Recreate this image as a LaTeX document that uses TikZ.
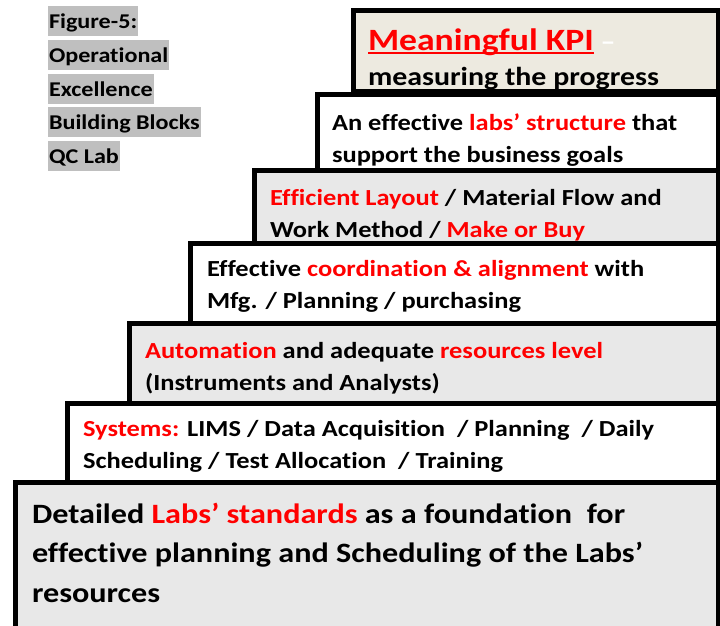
\documentclass[tikz,border=0pt]{standalone}
\usepackage{fontspec}
\setmainfont{Carlito}[FakeStretch=1.15, Ligatures=NoCommon]
\usetikzlibrary{positioning}

\definecolor{kpifill}{RGB}{237,234,224}
\definecolor{stepgray}{RGB}{232,232,232}
\definecolor{hlgray}{RGB}{191,191,191}
\newcommand{\hot}[1]{\textcolor{red}{#1}}
\newcommand{\kpiline}[1]{\textcolor{red}{\setbox0=\hbox{#1}\rlap{\rule[-4pt]{\wd0}{2.5pt}}\box0}}

\begin{document}
\begin{tikzpicture}[x=1pt, y=-1pt]
    \tikzstyle{every node}=[inner sep=0pt, outer sep=0pt, font=\bfseries]
    \tikzstyle{stepbox}=[draw=black, line width=5pt, rectangle, anchor=north west]
    \tikzstyle{steptext}=[anchor=base west, align=left, font=\bfseries\fontsize{23}{32}\selectfont]
    \tikzstyle{hl}=[fill=hlgray, anchor=west, inner xsep=1pt, text height=22pt, text depth=8pt, font=\bfseries\fontsize{21}{25}\selectfont]

    \clip (0,0) rectangle (720,625);

% The steps, from the foundation up to the top block.
% (text nodes sit on the baseline of their last line)

    \node[stepbox, fill=stepgray, minimum width=703, minimum height=160] (base) at (15,482) {};
    \node[stepbox, fill=white, minimum width=651, minimum height=79] (systems) at (67,403) {};
    \node[stepbox, fill=stepgray, minimum width=589, minimum height=80] (automation) at (129,323) {};
    \node[stepbox, fill=white, minimum width=528, minimum height=80] (coordination) at (190,243) {};
    \node[stepbox, fill=stepgray, minimum width=464, minimum height=73] (layout) at (254,170) {};
    \node[stepbox, fill=white, minimum width=401, minimum height=76] (structure) at (317,94) {};
    \node[stepbox, fill=kpifill, minimum width=365, minimum height=81] (kpi) at (353,10) {};

    \node[steptext, font=\bfseries\fontsize{28}{39.5}\selectfont] (basetext) at (32,602) {Detailed \hot{Labs’ standards} as a foundation\ \ for\\effective planning\ and\ Scheduling\ of the Labs’\\resources};
    \node[steptext] (systemstext) at (83,468) {\hot{Systems:} LIMS / Data Acquisition\ \ / Planning\ \ / Daily\\Scheduling / Test Allocation\ \ / Training};
    \node[steptext] (automationtext) at (145,390) {\hot{Automation} and adequate \hot{resources level}\\(Instruments and Analysts)};
    \node[steptext] (coordinationtext) at (207,308) {Effective \hot{coordination\ \& alignment} with\\Mfg. / Planning / purchasing};
    \node[steptext] (layouttext) at (270,237) {\hot{Efficient Layout} / Material Flow and\\Work Method / \hot{Make or Buy}};
    \node[steptext] (structuretext) at (332,162) {An effective \hot{labs’ structure} that\\support the business goals};
    \node[steptext, font=\bfseries\fontsize{26}{35}\selectfont] (kpitext) at (368,85) {{\fontsize{31}{31}\selectfont\kpiline{Meaningful KPI}} \textcolor{white}{–}\\measuring the progress};

% Caption at the top left, each line on its own grey band.

    \node[hl] (cap1) at (48,21) {Figure-5:};
    \node[hl] (cap2) at (48,55) {Operational};
    \node[hl] (cap3) at (48,89) {Excellence};
    \node[hl] (cap4) at (48,122) {Building Blocks};
    \node[hl] (cap5) at (48,156) {QC Lab};

\end{tikzpicture}
\end{document}
